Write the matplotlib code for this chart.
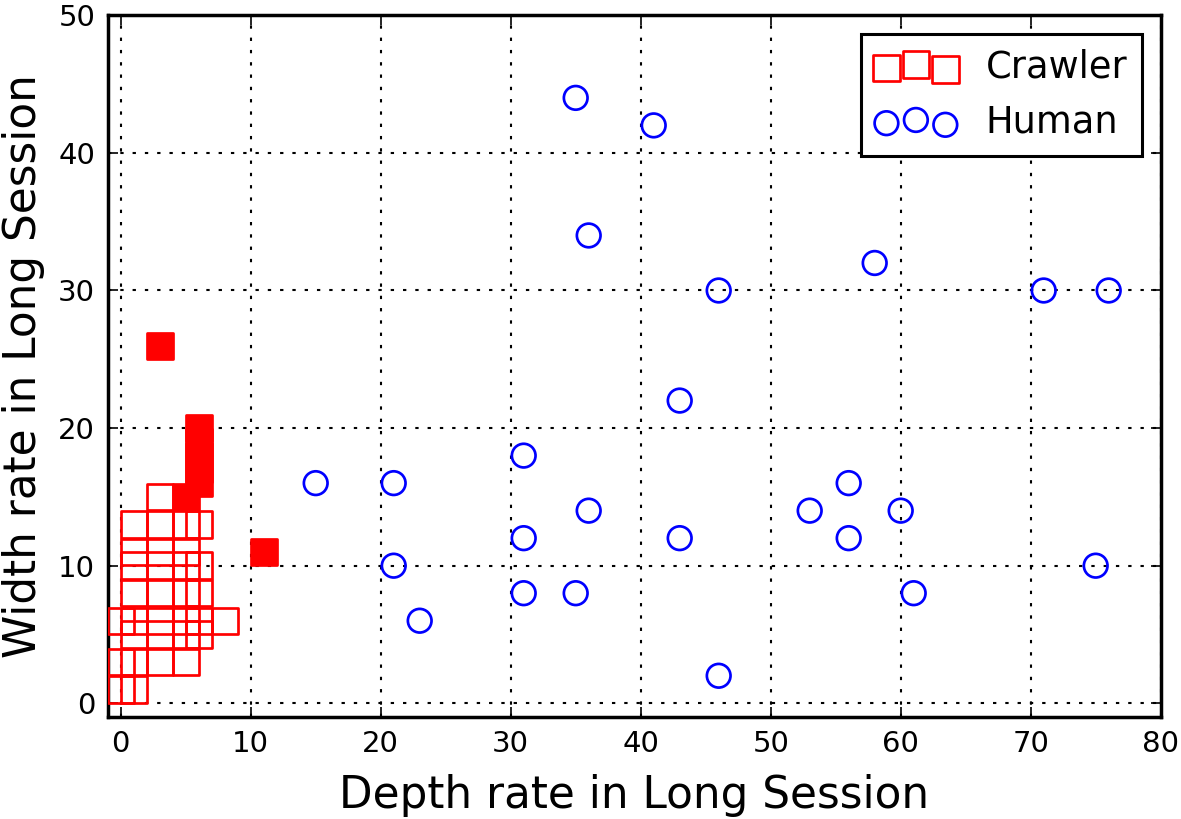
import matplotlib
matplotlib.use("Agg")
import matplotlib.pyplot as plt

# Crawler (open squares)
crawler_x = [0, 1, 0, 1, 3, 5, 1, 3, 5, 6, 0, 1, 3, 5, 6, 8, 1, 3, 5, 6,
             1, 3, 5, 6, 1, 3, 5, 1, 3, 5, 6, 3]
crawler_y = [1, 1, 3, 3, 3, 3, 5, 5, 5, 5, 6, 6, 6, 6, 6, 6, 8, 8, 8, 8,
             10, 10, 10, 10, 11, 11, 11, 13, 13, 13, 13, 15]
# Crawler (dense / filled squares)
crawler_fill_x = [5, 6, 6, 6, 6, 6, 3, 11]
crawler_fill_y = [15, 16, 17, 18, 19, 20, 26, 11]

# Human (open circles)
human_x = [35, 41, 36, 58, 46, 71, 76, 43, 31, 15, 21, 56, 36, 53, 60,
           31, 43, 56, 21, 75, 31, 35, 61, 23, 46]
human_y = [44, 42, 34, 32, 30, 30, 30, 22, 18, 16, 16, 16, 14, 14, 14,
           12, 12, 12, 10, 10, 8, 8, 8, 6, 2]

x_ticks = [0, 10, 20, 30, 40, 50, 60, 70, 80]
y_ticks = [0, 10, 20, 30, 40, 50]

plt.rcParams['font.family'] = ['DejaVu Sans']

fig = plt.figure(figsize=(11.81, 8.19), dpi=100)
ax = fig.add_axes([0.0912, 0.1245, 0.8916, 0.8568])

ax.scatter(crawler_x, crawler_y, s=361, marker='s', facecolors='none',
           edgecolors='red', linewidths=1.95, label='Crawler', zorder=3)
ax.scatter(crawler_fill_x, crawler_fill_y, s=361, marker='s', facecolors='red',
           edgecolors='red', linewidths=1.95, zorder=3)
ax.scatter(human_x, human_y, s=290, marker='o', facecolors='none',
           edgecolors='blue', linewidths=1.95, label='Human', zorder=3)

ax.set_xlim(-1, 80)
ax.set_ylim(-1, 50)
ax.set_xticks(x_ticks)
ax.set_yticks(y_ticks)

ax.grid(True, color='black', linewidth=1.5, linestyle=(0, (1.6, 4.3)))
ax.set_axisbelow(True)

for sp in ax.spines.values():
    sp.set_linewidth(2.5)

ax.tick_params(axis='both', which='major', direction='in', length=7, width=1.2,
               top=True, right=True, labelsize=21, pad=9)

ax.set_xlabel('Depth rate in Long Session', fontsize=31.5, labelpad=12)
ax.set_ylabel('Width rate in Long Session', fontsize=31.5, labelpad=9.5)

leg = ax.legend(loc='upper right', fontsize=26.5, scatterpoints=3,
                fancybox=False, framealpha=1, edgecolor='black',
                borderaxespad=0.5, handlelength=2.2)
leg.get_frame().set_linewidth(2.2)

fig.savefig('out.png', dpi=100)
